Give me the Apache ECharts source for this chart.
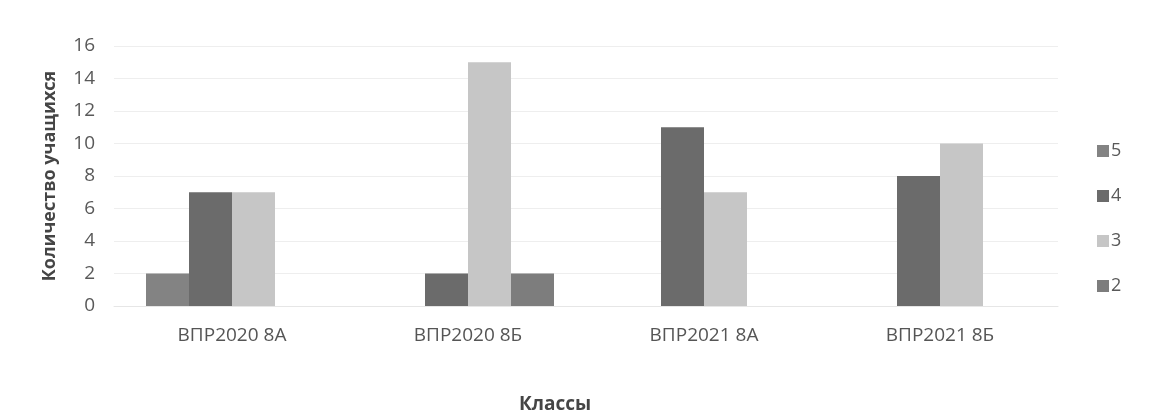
<!DOCTYPE html>
<html>
<head>
<meta charset="utf-8">
<script src="https://cdn.jsdelivr.net/npm/echarts@6/dist/echarts.min.js"></script>
<style>
html,body{margin:0;padding:0;background:#fff;}
#c{width:1164px;height:413px;}
</style>
</head>
<body>
<div id="c"></div>
<script>
const categories = ['ВПР2020 8А', 'ВПР2020 8Б', 'ВПР2021 8А', 'ВПР2021 8Б'];
const seriesNames = ['5', '4', '3', '2'];
const grade5 = [2, 0, 0, 0];
const grade4 = [7, 2, 11, 8];
const grade3 = [7, 15, 7, 10];
const grade2 = [0, 2, 0, 0];
const yTicks = [0, 2, 4, 6, 8, 10, 12, 14, 16];

const values = [grade5, grade4, grade3, grade2];
const colors = ['#838383', '#6b6b6b', '#c6c6c6', '#7d7d7d'];
const font = '"Open Sans", sans-serif';

const chart = echarts.init(document.getElementById('c'), null, {renderer: 'canvas'});
chart.setOption({
  backgroundColor: '#ffffff',
  animation: false,
  title: {
    text: 'Классы',
    left: 514, top: 390,
    textStyle: {fontFamily: font, fontSize: 19, fontWeight: 'bold', color: '#454545'}
  },
  legend: {
    orient: 'vertical',
    left: 1092, top: 137,
    itemWidth: 12, itemHeight: 12,
    itemGap: 27,
    icon: 'rect',
    data: seriesNames,
    textStyle: {fontFamily: font, fontSize: 18, color: '#595959', padding: [0, 0, 0, -3]}
  },
  grid: {left: 114, right: 106, top: 46, bottom: 107},
  xAxis: {
    type: 'category',
    data: categories,
    axisTick: {show: false},
    axisLine: {lineStyle: {color: '#e6e6e6'}},
    axisLabel: {fontFamily: font, fontSize: 19, color: '#555555', margin: 20}
  },
  yAxis: {
    type: 'value',
    min: yTicks[0], max: yTicks[yTicks.length - 1], interval: 2,
    name: 'Количество учащихся',
    nameLocation: 'middle',
    nameGap: 55,
    nameTextStyle: {fontFamily: font, fontSize: 18, fontWeight: 'bold', color: '#454545'},
    axisLine: {show: false},
    axisTick: {show: false},
    splitLine: {lineStyle: {color: '#eeeeee'}},
    axisLabel: {fontFamily: font, fontSize: 19, color: '#595959', margin: 19}
  },
  series: seriesNames.map((n, i) => ({
    name: n,
    type: 'bar',
    data: values[i],
    barWidth: 43,
    barGap: '0%',
    itemStyle: {color: colors[i]}
  }))
});
</script>
</body>
</html>
